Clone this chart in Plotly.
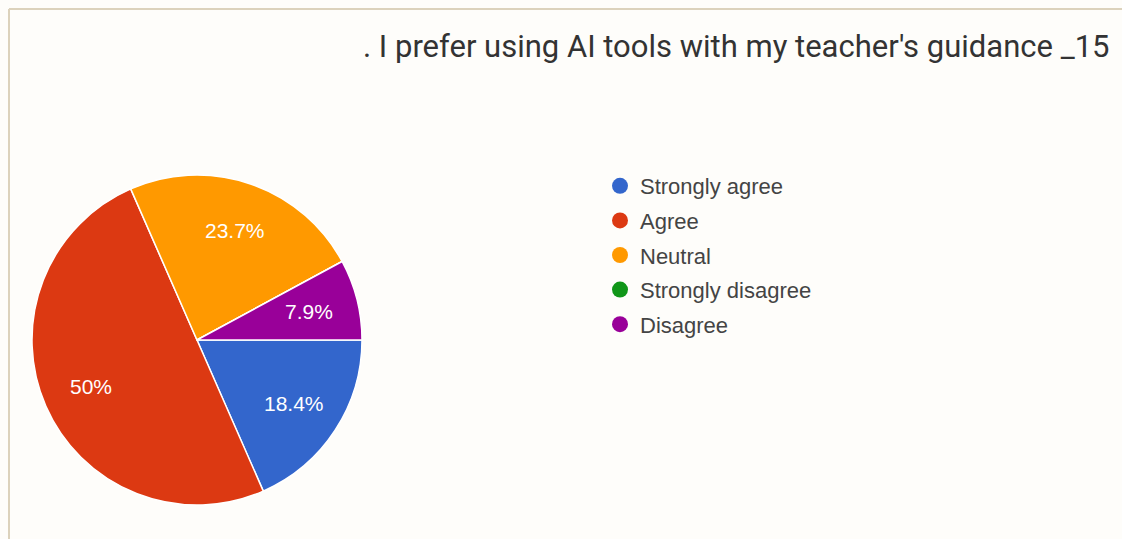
import math
import plotly.graph_objects as go

# Survey responses for item 15
categories = ["Strongly agree", "Agree", "Neutral", "Strongly disagree", "Disagree"]
counts = [7, 19, 9, 0, 3]
colors = ["#3366cc", "#dc3912", "#ff9900", "#109618", "#990099"]
question = ". I prefer using AI tools with my teacher's guidance _15"

W, H = 1122, 539
total = sum(counts)


def pct_label(v):
    s = f"{v / total * 100:.1f}".rstrip("0").rstrip(".")
    return s + "%"


fig = go.Figure()

# pie, starting at 3 o'clock and running clockwise
cx, cy, r = 197, 340, 165
start_deg = 0.0
fig.add_trace(go.Pie(
    labels=categories,
    values=counts,
    textinfo="none",
    marker=dict(colors=colors, line=dict(color="white", width=1.5)),
    sort=False,
    direction="clockwise",
    rotation=90 - start_deg,
    showlegend=False,
    hoverinfo="label+percent",
    domain=dict(x=[(cx - r) / W, (cx + r) / W], y=[1 - (cy + r) / H, 1 - (cy - r) / H]),
))

# percentage labels placed along each slice's bisector
acc = 0.0
for v in counts:
    if v > 0:
        mid = start_deg - (acc + v / 2) / total * 360.0
        lx = cx + 0.7 * r * math.cos(math.radians(mid))
        ly = cy - 0.7 * r * math.sin(math.radians(mid))
        fig.add_annotation(
            text=pct_label(v), xref="paper", yref="paper",
            x=lx / W, y=1 - ly / H, xanchor="center", yanchor="middle",
            showarrow=False,
            font=dict(family="Arial, Liberation Sans, sans-serif", size=21, color="white"),
        )
    acc += v

# legend entries with round swatches
for name, col in zip(categories, colors):
    fig.add_trace(go.Scatter(
        x=[None], y=[None], mode="markers", name=name, legendgroup=name,
        marker=dict(symbol="circle", size=18, color=col),
    ))

fig.add_annotation(
    text=question, xref="paper", yref="paper",
    x=1112 / W, y=1 - 46 / H, xanchor="right", yanchor="middle",
    showarrow=False,
    font=dict(family="Roboto, Arial, sans-serif", size=31, color="#333333"),
)

# frame lines along the top and left edges
fig.add_shape(type="line", xref="paper", yref="paper",
              x0=9 / W, x1=1, y0=1 - 9 / H, y1=1 - 9 / H,
              line=dict(color="#dcd2bc", width=2))
fig.add_shape(type="line", xref="paper", yref="paper",
              x0=9 / W, x1=9 / W, y0=0, y1=1 - 9 / H,
              line=dict(color="#dcd2bc", width=2))

fig.update_layout(
    width=W, height=H,
    margin=dict(l=0, r=0, t=0, b=0),
    paper_bgcolor="#fefdfa",
    plot_bgcolor="rgba(0,0,0,0)",
    xaxis=dict(visible=False),
    yaxis=dict(visible=False),
    showlegend=True,
    legend=dict(
        x=600 / W, y=1 - 165 / H, xanchor="left", yanchor="top",
        bgcolor="rgba(0,0,0,0)",
        font=dict(family="Arial, Liberation Sans, sans-serif", size=22, color="#444444"),
        tracegroupgap=3,
        itemclick=False, itemdoubleclick=False,
    ),
)

fig.write_html("out.html")
